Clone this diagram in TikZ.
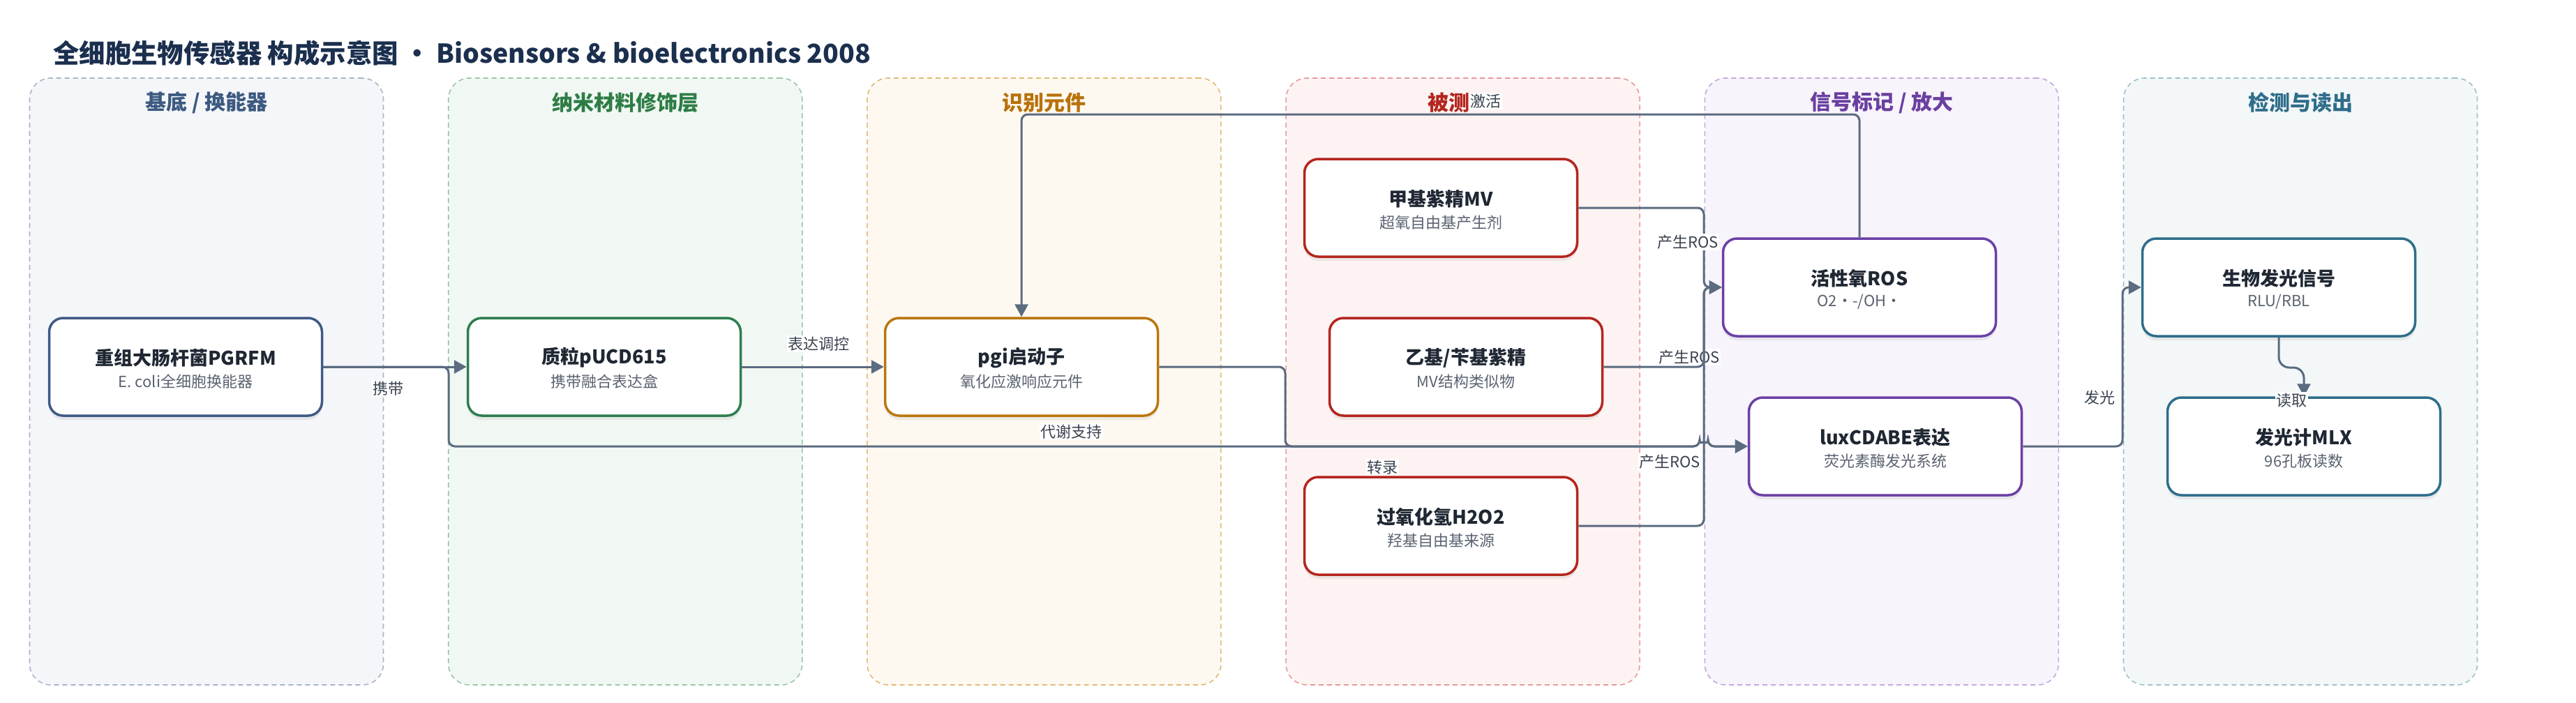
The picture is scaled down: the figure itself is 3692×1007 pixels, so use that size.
\documentclass[tikz,border=0pt]{standalone}
\usepackage{fontspec}
\setmainfont{Noto Sans CJK SC}
\usetikzlibrary{arrows.meta,shadows}
\definecolor{titlec}{HTML}{1B2F4E}
\definecolor{edgec}{HTML}{5B6B80}
\definecolor{labc}{HTML}{3A4350}
\definecolor{ntc}{HTML}{1F2733}
\definecolor{nsc}{HTML}{5A6270}
\definecolor{fA}{HTML}{F4F6FA}\definecolor{bA}{HTML}{A8B4C8}\definecolor{hA}{HTML}{3D5A80}\definecolor{nA}{HTML}{3F5A86}
\definecolor{fB}{HTML}{F1F8F3}\definecolor{bB}{HTML}{9CC5A7}\definecolor{hB}{HTML}{2E7D46}\definecolor{nB}{HTML}{2E7D4F}
\definecolor{fC}{HTML}{FEF9F0}\definecolor{bC}{HTML}{E3B878}\definecolor{hC}{HTML}{B8720A}\definecolor{nC}{HTML}{BA760E}
\definecolor{fD}{HTML}{FDF3F2}\definecolor{bD}{HTML}{E59A9A}\definecolor{hD}{HTML}{B3261E}\definecolor{nD}{HTML}{B3261E}
\definecolor{fE}{HTML}{F7F4FB}\definecolor{bE}{HTML}{C3A8E0}\definecolor{hE}{HTML}{6A3FA0}\definecolor{nE}{HTML}{6B40A5}
\definecolor{fF}{HTML}{F3F7F8}\definecolor{bF}{HTML}{9FC0CC}\definecolor{hF}{HTML}{2F6D8A}\definecolor{nF}{HTML}{2F6D8A}
\newcommand\drawbox[6]{%
  \node[nbox, draw=#4] (#1) at (#2,#3) {};
  \node[ntitle] (#1-t) at (#2,#3-13) {#5};
  \node[nsub] (#1-s) at (#2,#3+21) {#6};
}
\begin{document}
\begin{tikzpicture}[x=1pt,y=-1pt,
  lane/.style={draw, dashed, dash pattern=on 7pt off 5pt, line width=1.6pt, rounded corners=30pt, minimum width=507pt, minimum height=870pt, inner sep=0pt},
  lanehead/.style={font=\fontsize{30}{34}\selectfont\bfseries},
  nbox/.style={line width=3.5pt, rounded corners=20pt, fill=white, minimum width=391pt, minimum height=140pt, inner sep=0pt, drop shadow={shadow xshift=0pt, shadow yshift=-6pt, opacity=0.13}},
  ntitle/.style={font=\fontsize{27}{32}\selectfont\bfseries, text=ntc, inner sep=0pt},
  nsub/.style={font=\fontsize{22}{26}\selectfont, text=nsc, inner sep=0pt},
  conn/.style={draw=edgec, line width=3pt, rounded corners=9pt, -{Triangle[length=18pt,width=19pt]}},
  elabel/.style={font=\fontsize{22}{26}\selectfont, text=labc, fill=white, inner sep=1.5pt}]
\fill[white] (0,0) rectangle (3692,1007);
\useasboundingbox (0,0) rectangle (3692,1007);
% title
\node[anchor=west, font=\fontsize{37.4}{42}\selectfont\bfseries, text=titlec, inner sep=0pt] (title) at (76,76) {全细胞生物传感器 构成示意图 ・ Biosensors \& bioelectronics 2008};
% lanes
\node[lane, fill=fA, draw=bA] (lane1) at (296,547) {};
\node[lane, fill=fB, draw=bB] (lane2) at (896.2,547) {};
\node[lane, fill=fC, draw=bC] (lane3) at (1496.4,547) {};
\node[lane, fill=fD, draw=bD] (lane4) at (2096.6,547) {};
\node[lane, fill=fE, draw=bE] (lane5) at (2696.8,547) {};
\node[lane, fill=fF, draw=bF] (lane6) at (3297,547) {};
\node[lanehead, text=hA] (h1) at (296,147) {基底 / 换能器};
\node[lanehead, text=hB] (h2) at (896.2,147) {纳米材料修饰层};
\node[lanehead, text=hC] (h3) at (1496.4,147) {识别元件};
\node[lanehead, text=hD, anchor=east] (h4) at (2110,147) {被测};
\node[lanehead, text=hE] (h5) at (2696.8,147) {信号标记 / 放大};
\node[lanehead, text=hF] (h6) at (3297,147) {检测与读出};
% nodes
\drawbox{n1}{266}{526}{nA}{重组大肠杆菌PGRFM}{E. coli全细胞换能器}
\drawbox{n2}{866}{526}{nB}{质粒pUCD615}{携带融合表达盒}
\drawbox{n3}{1464}{526}{nC}{pgi启动子}{氧化应激响应元件}
\drawbox{mv}{2065}{298}{nD}{甲基紫精MV}{超氧自由基产生剂}
\drawbox{ev}{2101}{526}{nD}{乙基/苄基紫精}{MV结构类似物}
\drawbox{hp}{2065}{754}{nD}{过氧化氢H2O2}{羟基自由基来源}
\drawbox{ros}{2665}{412}{nE}{活性氧ROS}{O2・-/OH・}
\drawbox{lux}{2702}{640}{nE}{luxCDABE表达}{荧光素酶发光系统}
\drawbox{sig}{3266}{412}{nF}{生物发光信号}{RLU/RBL}
\drawbox{mlx}{3302}{640}{nF}{发光计MLX}{96孔板读数}
% connectors
\draw[conn] (n1.east) -- (n2.west);
\node[elabel] (l1) at (556,557) {携带};
\draw[conn] (n1.east) -- (643,526) -- (643,640) -- (2436,640) arc (180:360:6) -- (lux.west);
\node[elabel] (l2) at (1535,619) {代谢支持};
\draw[conn] (n2.east) -- (n3.west);
\node[elabel] (l3) at (1173,493) {表达调控};
\draw[conn] (n3.east) -- (1842,526) -- (1842,640) -- (2436,640) arc (180:360:6) -- (lux.west);
\node[elabel] (l4) at (1981,670) {转录};
\draw[conn] (mv.east) -- (2442,298) -- (2442,412) -- (ros.west);
\node[elabel] (l5) at (2419,347) {产生ROS};
\node[elabel] (l6) at (2421,512) {产生ROS};
\draw[conn] (ev.east) -- (2442,526) -- (2442,412) -- (ros.west);
\draw[conn] (hp.east) -- (2442,754) -- (2442,412) -- (ros.west);
\node[elabel] (l7) at (2393,662) {产生ROS};
\draw[conn] (ros.north) -- (2665,164) -- (1464,164) -- (n3.north);
\node[elabel] (l8) at (2129,145) {激活};
\draw[conn] (lux.east) -- (3042,640) -- (3042,412) -- (sig.west);
\node[elabel] (l9) at (3009,570) {发光};
\draw[conn, rounded corners=15pt] (sig.south) -- (3266,527) -- (3302,527) -- (mlx.north);
\node[elabel] (l10) at (3284,574) {读取};
\end{tikzpicture}
\end{document}
